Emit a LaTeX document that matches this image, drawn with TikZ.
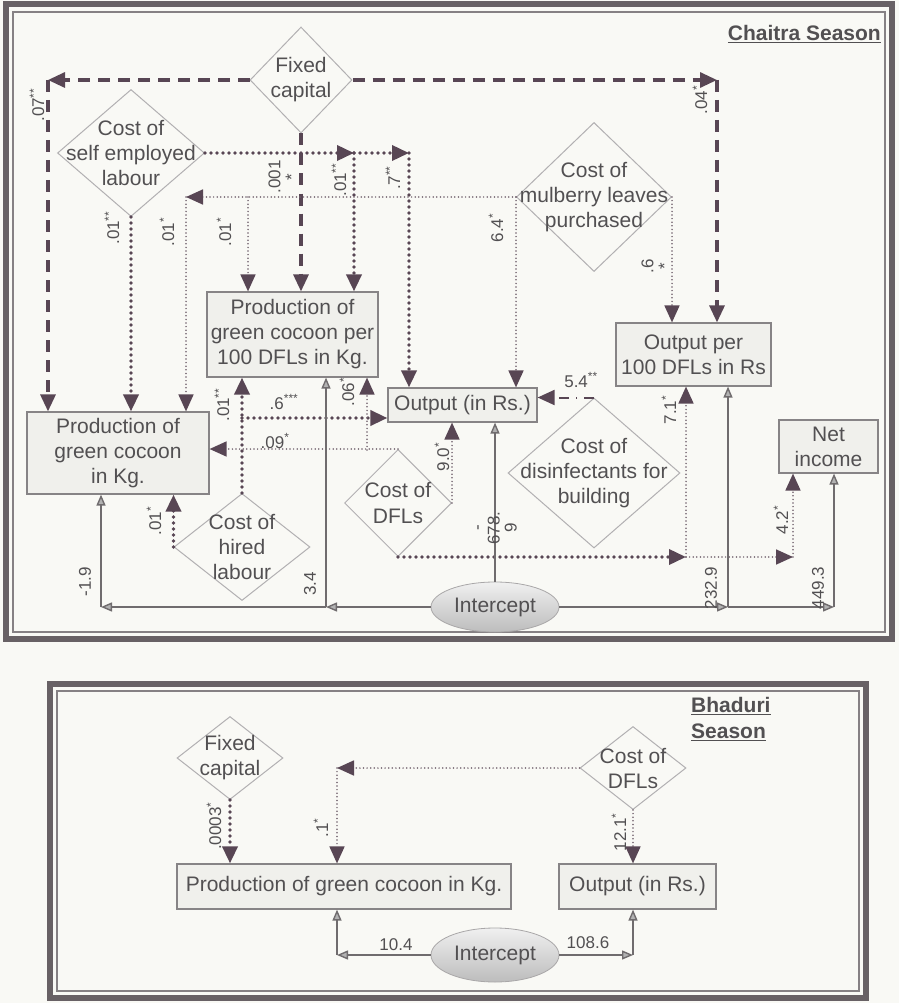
\documentclass[tikz,border=0pt]{standalone}
\usepackage{fontspec}
\setmainfont{Liberation Sans}
\usetikzlibrary{shapes.geometric, arrows.meta}
\definecolor{inkpurple}{RGB}{88,70,84}
\definecolor{dotpurple}{RGB}{112,96,108}
\definecolor{linegray}{RGB}{112,108,110}
\definecolor{textgray}{RGB}{82,80,82}
\definecolor{diamgray}{RGB}{178,176,178}
\definecolor{boxgray}{RGB}{135,132,134}
\definecolor{boxfill}{RGB}{240,240,236}
\definecolor{paper}{RGB}{249,249,245}
\definecolor{framegray}{RGB}{104,97,101}
\tikzset{
  block/.style={rectangle, draw=boxgray, fill=boxfill, line width=1.2pt,
    align=center, inner sep=1pt, text=textgray, font=\fontsize{21}{25}\selectfont},
  diam/.style={diamond, draw=diamgray, line width=1pt, inner sep=0pt},
  dtext/.style={align=center, text=textgray, font=\fontsize{21}{25}\selectfont, inner sep=0pt},
  oval/.style={ellipse, draw=linegray!60, line width=0.8pt, top color=white!94!black,
    bottom color=white!74!black, text=textgray, font=\fontsize{21}{25}\selectfont, inner sep=0pt},
  coef/.style={text=textgray, font=\fontsize{17}{17}\selectfont, inner sep=0pt},
  vcoef/.style={coef, rotate=90, align=center},
  title/.style={text=textgray, font=\fontsize{21}{26}\selectfont\bfseries, inner sep=0pt, align=left},
  dasharrow/.style={-{Triangle[length=17pt,width=15pt]}, color=inkpurple,
    line width=3.2pt, dash pattern=on 12pt off 8pt},
  fatdot/.style={-{Triangle[length=17pt,width=15pt]}, color=inkpurple,
    line width=3.6pt, line cap=round, dash pattern=on 0pt off 6pt},
  thindot/.style={-{Triangle[length=17pt,width=15pt,color=inkpurple]}, color=dotpurple,
    line width=1.7pt, line cap=round, dash pattern=on 0pt off 3.6pt},
  mixarrow/.style={-{Triangle[length=17pt,width=15pt]}, color=inkpurple,
    line width=2pt, dash pattern=on 10pt off 7pt on 1pt off 7pt},
  linkarrow/.style={-{Triangle[length=11pt,width=9pt,fill=white!70!black]},
    color=linegray, line width=1.4pt},
  outframe/.style={draw=framegray, line width=6pt},
  inframe/.style={draw=framegray!80, line width=2pt},
}

\begin{document}
\begin{tikzpicture}[x=1pt, y=-1pt]
  \fill[paper] (0,0) rectangle (899,1003);
  \useasboundingbox (0,0) rectangle (899,1003);

  % ---------------- Chaitra season ----------------
  \draw[outframe] (6,4) rectangle (892,639);
  \draw[inframe] (13,12) rectangle (885,632);
  \node[title, anchor=north east] (chaitra) at (881,25) {\underline{Chaitra Season}};

  % factors
  \node[diam, minimum width=102, minimum height=106,
    label={[dtext]center:Fixed\\capital}] (fixcap) at (301,80) {};
  \node[diam, minimum width=147, minimum height=127,
    label={[dtext]center:Cost of\\self employed\\labour}] (selfemp) at (131,153) {};
  \node[diam, minimum width=155, minimum height=149,
    label={[dtext]center:Cost of\\mulberry leaves\\purchased}] (mulb) at (594,197) {};
  \node[diam, minimum width=107, minimum height=107,
    label={[dtext]center:Cost of\\DFLs}] (dfl) at (398,503) {};
  \node[diam, minimum width=136, minimum height=107,
    label={[dtext]center:Cost of\\hired\\labour}] (hired) at (242,547) {};
  \node[diam, minimum width=172, minimum height=150,
    label={[dtext]center:Cost of\\disinfectants for\\building}] (disinf) at (594,473) {};

  % outcomes
  \node[block, minimum width=182, minimum height=82] (pgkg) at (118,453)
    {Production of\\green cocoon\\in Kg.};
  \node[block, minimum width=171, minimum height=85] (pp100) at (292.5,334.5)
    {Production of\\green cocoon per\\100 DFLs in Kg.};
  \node[block, minimum width=149, minimum height=34] (out) at (462.5,405) {Output (in Rs.)};
  \node[block, minimum width=155, minimum height=63] (outpp) at (693.5,354.5)
    {Output per\\100 DFLs in Rs};
  \node[block, minimum width=99, minimum height=53] (netinc) at (828.5,446.5) {Net\\income};
  \node[oval, minimum width=128, minimum height=50] (intercept) at (495,607) {Intercept};

  % corner points
  \coordinate (fcL) at (48,80);
  \coordinate (fcR) at (717,80);
  \coordinate (seA) at (354,153);
  \coordinate (seB) at (409,153);
  \coordinate (mbL) at (186,197);
  \coordinate (mbM) at (248,197);
  \coordinate (hlT) at (242,418);
  \coordinate (dfA) at (367,450);
  \coordinate (dfB) at (686,557);
  \coordinate (dfC) at (793,557);
  \coordinate (icL1) at (101,607);
  \coordinate (icL2) at (326,607);
  \coordinate (icR1) at (728,607);
  \coordinate (icR2) at (834,607);

  % fixed capital
  \draw[dasharrow] (fixcap.west) -- (fcL);
  \draw[dasharrow] (fcL) -- (fcL |- pgkg.north);
  \draw[dasharrow] (fixcap.east) -- (fcR);
  \draw[dasharrow] (fcR) -- (fcR |- outpp.north);
  \draw[dasharrow] (fixcap.south) -- (fixcap.south |- pp100.north);
  \node[vcoef] (c07) at (37,105) {.07\textsuperscript{**}};
  \node[vcoef] (c04) at (700,100) {.04\textsuperscript{*}};
  \node[vcoef] (c001) at (283,177) {.001\\*};

  % self employed labour
  \draw[fatdot] (selfemp.east) -- (seA);
  \draw[fatdot] (seA) -- (seB);
  \draw[fatdot] (seA) -- (seA |- pp100.north);
  \draw[fatdot] (seB) -- (seB |- out.north);
  \draw[fatdot] (selfemp.south) -- (selfemp.south |- pgkg.north);
  \node[vcoef] (c01a) at (339,180) {.01\textsuperscript{**}};
  \node[vcoef] (c7) at (393,178) {.7\textsuperscript{**}};
  \node[vcoef] (c01b) at (112,228) {.01\textsuperscript{**}};

  % mulberry leaves
  \draw[thindot] (mulb.west) -- (mbL);
  \draw[thindot] (mbL) -- (mbL |- pgkg.north);
  \draw[thindot] (mbM) -- (mbM |- pp100.north);
  \draw[thindot] (mulb.west) -- (mulb.west |- out.north);
  \draw[thindot] (mulb.east) -- (mulb.east |- outpp.north);
  \node[vcoef] (c01c) at (167,232) {.01\textsuperscript{*}};
  \node[vcoef] (c01d) at (224,232) {.01\textsuperscript{*}};
  \node[vcoef] (c64) at (496,228) {6.4\textsuperscript{*}};
  \node[vcoef] (c6) at (656,266) {.6\\*};

  % hired labour
  \draw[fatdot] (hired.north) -- (hired.north |- pp100.south);
  \draw[fatdot] (hlT) -- (hlT -| out.west);
  \draw[fatdot] (hired.west) -- (hired.west |- pgkg.south);
  \node[coef] (c6b) at (284,402) {.6\textsuperscript{***}};
  \node[vcoef] (c01e) at (222,405) {.01\textsuperscript{**}};
  \node[vcoef] (c01f) at (154,521) {.01\textsuperscript{*}};

  % DFLs
  \draw[thindot] (dfl.north) -- (dfl.north -| pgkg.east);
  \draw[thindot] (dfA) -- (dfA |- pp100.south);
  \draw[thindot] (dfl.east) -- (dfl.east |- out.south);
  \draw[fatdot] (dfl.south) -- (dfB);
  \draw[thindot] (dfB) -- (dfC);
  \draw[thindot] (dfB) -- (dfB |- outpp.south);
  \draw[thindot] (dfC) -- (dfC |- netinc.south);
  \node[coef] (c09) at (275,441) {.09\textsuperscript{*}};
  \node[vcoef] (c06) at (347,392) {.06\textsuperscript{*}};
  \node[vcoef] (c90) at (442,457) {9.0\textsuperscript{*}};
  \node[vcoef] (c71) at (669,410) {7.1\textsuperscript{*}};
  \node[vcoef] (c42) at (781,520) {4.2\textsuperscript{*}};

  % disinfectants
  \draw[mixarrow] (disinf.north) -- (disinf.north -| out.east);
  \node[coef] (c54) at (581,380) {5.4\textsuperscript{**}};

  % intercept
  \draw[linkarrow] (intercept.west) -- (icL2);
  \draw[linkarrow] (icL2) -- (icL1);
  \draw[linkarrow] (icL1) -- (icL1 |- pgkg.south);
  \draw[linkarrow] (icL2) -- (icL2 |- pp100.south);
  \draw[linkarrow] (intercept.north) -- (intercept.north |- out.south);
  \draw[linkarrow] (intercept.east) -- (icR1);
  \draw[linkarrow] (icR1) -- (icR2);
  \draw[linkarrow] (icR1) -- (icR1 |- outpp.south);
  \draw[linkarrow] (icR2) -- (icR2 |- netinc.south);
  \node[vcoef] (c19) at (85,582) {-1.9};
  \node[vcoef] (c34) at (310,584) {3.4};
  \node[vcoef] (c678) at (497,528) {-\\678.\\9};
  \node[vcoef] (c232) at (711,588) {232.9};
  \node[vcoef] (c449) at (818,588) {449.3};

  % ---------------- Bhaduri season ----------------
  \draw[outframe] (50,684) rectangle (866,998);
  \draw[inframe] (57,691) rectangle (859,991);
  \node[title, anchor=north west] (bhaduri) at (691,697) {\underline{Bhaduri}\\\underline{Season}};

  \node[diam, minimum width=106, minimum height=83,
    label={[dtext]center:Fixed\\capital}] (fixcap2) at (230,758) {};
  \node[diam, minimum width=106, minimum height=83,
    label={[dtext]center:Cost of\\DFLs}] (dfl2) at (633,768) {};
  \node[block, minimum width=334, minimum height=45] (pgkg2) at (344,886.5)
    {Production of green cocoon in Kg.};
  \node[block, minimum width=157, minimum height=45] (out2) at (637.5,886.5) {Output (in Rs.)};
  \node[oval, minimum width=128, minimum height=54] (intercept2) at (495,955) {Intercept};

  \coordinate (dfL2) at (337,768);
  \coordinate (ic2L) at (337,955);
  \coordinate (ic2R) at (633,955);

  \draw[fatdot] (fixcap2.south) -- (fixcap2.south |- pgkg2.north);
  \draw[thindot] (dfl2.west) -- (dfL2);
  \draw[thindot] (dfL2) -- (dfL2 |- pgkg2.north);
  \draw[thindot] (dfl2.south) -- (dfl2.south |- out2.north);
  \node[vcoef] (c0003) at (214,826) {.0003\textsuperscript{*}};
  \node[vcoef] (c1) at (321,828) {.1\textsuperscript{*}};
  \node[vcoef] (c121) at (619,832) {12.1\textsuperscript{*}};

  \draw[linkarrow] (intercept2.west) -- (ic2L);
  \draw[linkarrow] (ic2L) -- (ic2L |- pgkg2.south);
  \draw[linkarrow] (intercept2.east) -- (ic2R);
  \draw[linkarrow] (ic2R) -- (ic2R |- out2.south);
  \node[coef] (c104) at (396,945) {10.4};
  \node[coef] (c1086) at (588,943) {108.6};
\end{tikzpicture}
\end{document}
